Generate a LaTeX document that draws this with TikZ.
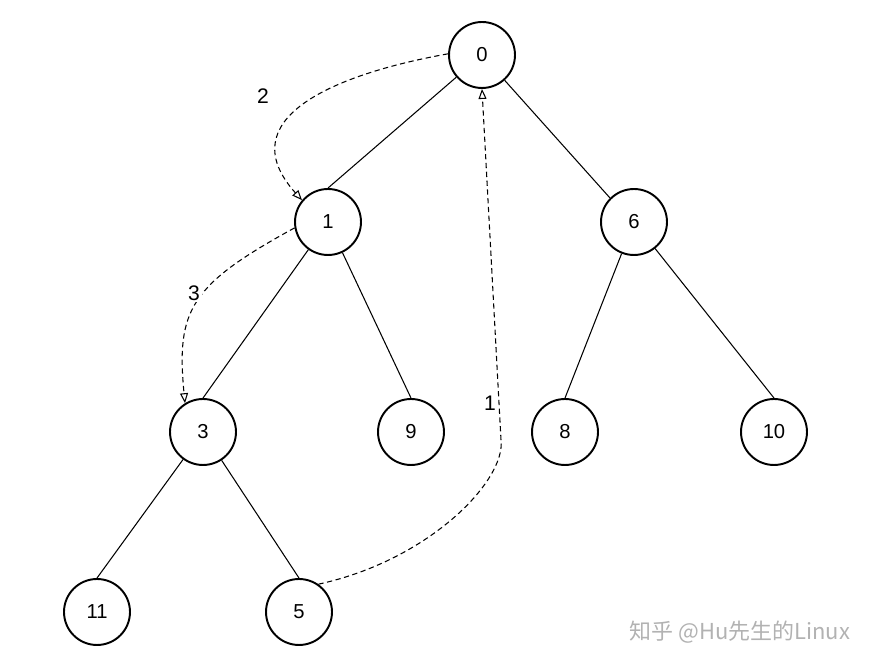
\documentclass[tikz,border=0pt]{standalone}
\usepackage{fontspec}
\setmainfont{Liberation Sans}
\newfontfamily\cjkfont{Noto Sans CJK SC}
\usepackage{tikz}
\usetikzlibrary{arrows.meta,positioning}
\tikzset{
  bt/vertex/.style={draw, circle, line width=1.1pt, minimum size=13.2mm, inner sep=0pt, font=\fontsize{11.5}{13}\selectfont},
  bt/edge/.style={semithick},
  bt/visit/.style={semithick, dashed, dash pattern=on 3pt off 2pt, -{Triangle[open,length=2mm,width=1.6mm]}},
  bt/order/.style={font=\fontsize{12}{14}\selectfont, inner sep=1pt},
  bt/mark/.style={font=\cjkfont\fontsize{12.5}{14}\selectfont, text=black!30}
}

\begin{document}
\begin{tikzpicture}[x=0.02cm, y=-0.02cm]
  \useasboundingbox (0,0) rectangle (894,668);
  % tree vertices
  \node[bt/vertex] (n0) at (482,55) {0};
  \node[bt/vertex] (n1) at (328,222) {1};
  \node[bt/vertex] (n6) at (634,222) {6};
  \node[bt/vertex] (n3) at (203,432) {3};
  \node[bt/vertex] (n9) at (411,432) {9};
  \node[bt/vertex] (n8) at (565,432) {8};
  \node[bt/vertex] (n10) at (774,432) {10};
  \node[bt/vertex] (n11) at (97,612) {11};
  \node[bt/vertex] (n5) at (299,612) {5};
  % tree edges
  \draw[bt/edge] (n0) -- (n1.north);
  \draw[bt/edge] (n0) -- (n6.north west);
  \draw[bt/edge] (n1) -- (n3.north);
  \draw[bt/edge] (n1) -- (n9.north);
  \draw[bt/edge] (n6) -- (n8.north);
  \draw[bt/edge] (n6) -- (n10.north);
  \draw[bt/edge] (n3) -- (n11.north);
  \draw[bt/edge] (n3) -- (n5.north);
  % visiting order
  \coordinate (bend) at (501,440);
  \draw[bt/visit] (n5.55) .. controls (430,560) and (506,480) .. (bend) -- (n0.south);
  \draw[bt/visit] (n0.178) .. controls (330,75) and (230,120) .. (n1.140);
  \draw[bt/visit] (n1.190) .. controls (190,285) and (176,310) .. (n3.122);
  \node[bt/order] (o1) at (490,403) {1};
  \node[bt/order] (o2) at (263,96) {2};
  \node[bt/order, fill=white] (o3) at (194,293) {3};
  \node[bt/mark] (wm) at (740,632) {知乎 @Hu先生的Linux};
\end{tikzpicture}
\end{document}
